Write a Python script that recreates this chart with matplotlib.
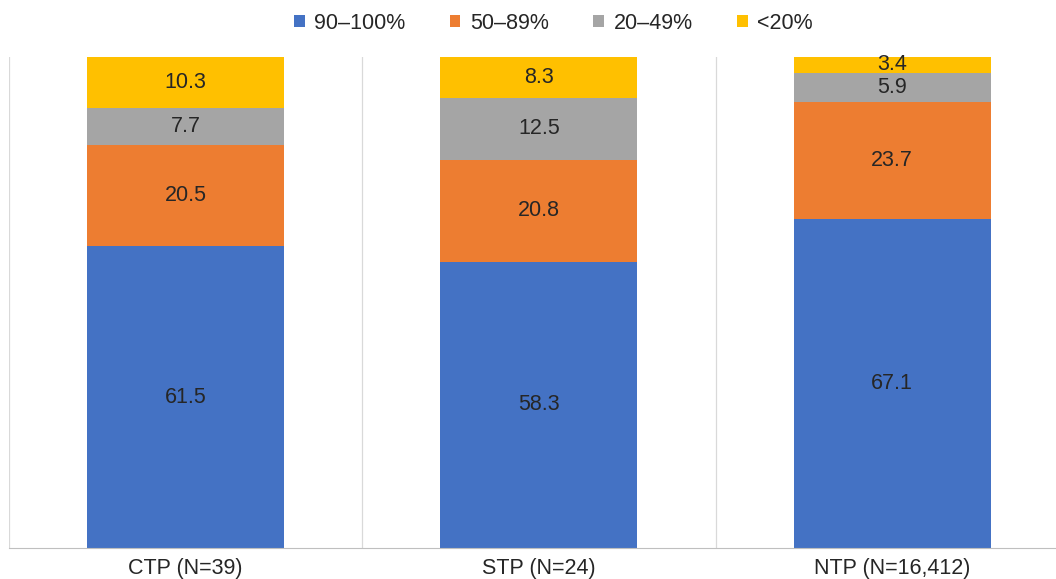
import numpy as np
import matplotlib.pyplot as plt

plt.rcParams['font.family'] = ['Liberation Sans', 'DejaVu Sans']

categories = ['CTP (N=39)', 'STP (N=24)', 'NTP (N=16,412)']
series_names = ['90\u2013100%', '50\u201389%', '20\u201349%', '<20%']
v_90_100 = [61.5, 58.3, 67.1]
v_50_89 = [20.5, 20.8, 23.7]
v_20_49 = [7.7, 12.5, 5.9]
v_lt20 = [10.3, 8.3, 3.4]
colors = ['#4472C4', '#ED7D31', '#A5A5A5', '#FFC000']

fig = plt.figure(figsize=(10.56, 5.79), dpi=100)
ax = fig.add_axes([8.75 / 1056, 31 / 579, 1060.25 / 1056, 491 / 579])

x = np.arange(len(categories))
bottom = np.zeros(len(categories))
for name, vals, c in zip(series_names, [v_90_100, v_50_89, v_20_49, v_lt20], colors):
    vals = np.array(vals)
    ax.bar(x, vals, 0.557, bottom=bottom, color=c, label=name, zorder=2, clip_on=False)
    for xi, b, v in zip(x, bottom, vals):
        ax.text(xi, b + v / 2, f'{v:.1f}', ha='center', va='center',
                fontsize=15.5, color='#262626', zorder=3)
    bottom += vals

ax.set_xlim(-0.5, 2.5)
ax.set_ylim(0, 100)
for xv in [-0.5, 0.5, 1.5]:
    ax.axvline(xv, color='#d9d9d9', lw=0.9, zorder=1)
for s in ['top', 'right', 'left']:
    ax.spines[s].set_visible(False)
ax.spines['bottom'].set_color('#bfbfbf')
ax.set_yticks([])
ax.set_xticks(x)
ax.set_xticklabels(categories, fontsize=15.5, color='#262626')
ax.tick_params(axis='x', length=0, pad=7)

fig.legend(loc='center', bbox_to_anchor=(0.524, 0.96), ncol=4, frameon=False,
           fontsize=15.5, handlelength=0.5, handleheight=0.5, handletextpad=0.45,
           columnspacing=2.05, labelcolor='#262626')

fig.savefig('out.png', dpi=100)
